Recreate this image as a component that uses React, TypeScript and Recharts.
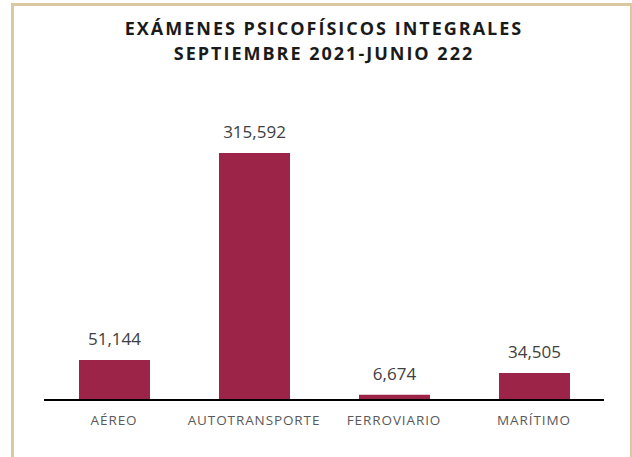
import React from 'react';
import { BarChart, Bar, XAxis, YAxis, LabelList } from 'recharts';

const CATEGORIES = ['AÉREO', 'AUTOTRANSPORTE', 'FERROVIARIO', 'MARÍTIMO'];
const EXAMS = [51144, 315592, 6674, 34505];
const TITLE_LINES = ['EXÁMENES PSICOFÍSICOS INTEGRALES', 'SEPTIEMBRE 2021-JUNIO 222'];

const data = CATEGORIES.map((name, i) => ({ name, value: EXAMS[i] }));

const FONT = '"Open Sans", "Noto Sans", sans-serif';

export default function App() {
  return (
    <div style={{ position: 'absolute', left: 0, top: 0, width: 632, height: 457, background: '#fff', overflow: 'hidden' }}>
      {/* beige frame */}
      <div
        style={{
          position: 'absolute', left: 11, top: 3, width: 616, height: 470,
          borderLeft: '3px solid #dcc8a0', borderTop: '3px solid #dcc8a0', borderRight: '2px solid #dcc8a0',
        }}
      />
      <div
        style={{
          position: 'absolute', left: 0, top: 16, width: 648, textAlign: 'center',
          fontFamily: FONT, fontWeight: 700, fontSize: 18, lineHeight: '24.6px', letterSpacing: 2, color: '#1a1a1a',
        }}
      >
        {TITLE_LINES.map((t) => (
          <div key={t}>{t}</div>
        ))}
      </div>
      <div style={{ position: 'absolute', left: 0, top: 0 }}>
        <BarChart width={632} height={457} data={data} margin={{ top: 126, right: 28, left: 44, bottom: 27 }}>
          <XAxis
            dataKey="name"
            height={30}
            tickLine={false}
            axisLine={{ stroke: '#000', strokeWidth: 2 }}
            tick={{ fontSize: 13.5, fill: '#595959', fontFamily: FONT, letterSpacing: 0.9 }}
            tickMargin={9}
            interval={0}
          />
          <YAxis hide domain={[0, 350000]} />
          <Bar dataKey="value" fill="#9d2449" barSize={71} isAnimationActive={false}>
            <LabelList
              dataKey="value"
              position="top"
              offset={15}
              formatter={(v: any) => Number(v).toLocaleString('en-US')}
              style={{ fontSize: 17, fill: '#404040', fontFamily: FONT }}
            />
          </Bar>
        </BarChart>
      </div>
    </div>
  );
}
